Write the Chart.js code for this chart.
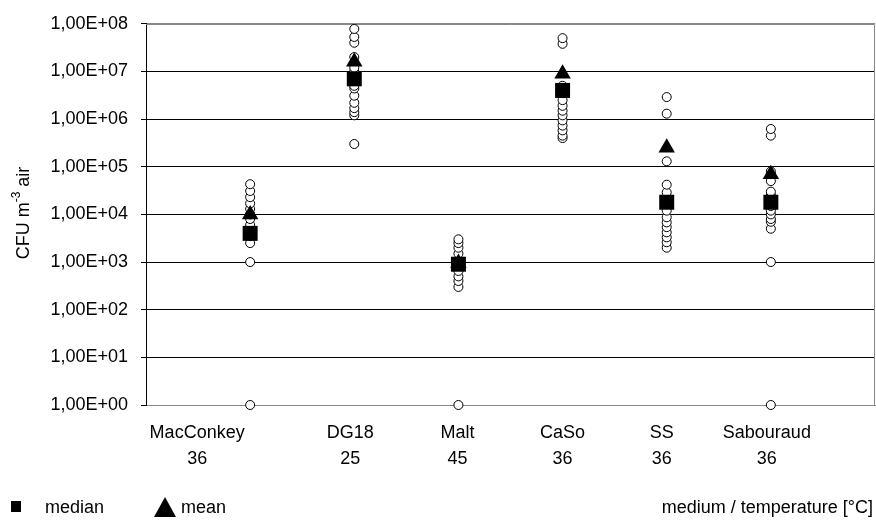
<!DOCTYPE html>
<html><head><meta charset="utf-8">
<script src="https://cdn.jsdelivr.net/npm/chart.js@4/dist/chart.umd.min.js"></script>
<style>html,body{margin:0;padding:0;background:#fff}#wrap{width:876px;height:523px}</style>
</head><body><div id="wrap"><canvas id="c" width="876" height="523"></canvas></div>
<script>
// ---- data ----
const categories = ['MacConkey', 'DG18', 'Malt', 'CaSo', 'SS', 'Sabouraud'];
const temperatures = ['36', '25', '45', '36', '36', '36'];
const macconkey = [1, 1000, 2500, 3500, 4000, 5000, 6000, 8000, 10000, 13000, 17000, 23000, 31000, 43000];
const dg18 = [300000, 1200000, 1400000, 1700000, 2200000, 3100000, 4400000, 5000000, 7000000, 10000000, 12000000, 20000000, 40000000, 53000000, 78000000];
const malt = [1, 300, 400, 500, 650, 900, 1500, 2000, 2500, 3000];
const caso = [400000, 450000, 580000, 730000, 940000, 1200000, 1500000, 1900000, 2500000, 3500000, 5000000, 38000000, 50000000];
const ss = [2000, 2600, 3300, 4200, 5400, 6800, 8700, 12000, 18000, 29000, 42000, 130000, 1300000, 2900000];
const sabouraud = [1, 1000, 5000, 7000, 8000, 10000, 12000, 15000, 20000, 25000, 30000, 50000, 70000, 80000, 450000, 620000];
const medians = [4000, 7000000, 900, 4000000, 18000, 18000];
const means = [10000, 16000000, 950, 9000000, 250000, 70000];
const yTicks = [1, 10, 100, 1000, 10000, 100000, 1000000, 10000000, 100000000];
const yTickLabels = ['1,00E+00', '1,00E+01', '1,00E+02', '1,00E+03', '1,00E+04', '1,00E+05', '1,00E+06', '1,00E+07', '1,00E+08'];
const samples = [macconkey, dg18, malt, caso, ss, sabouraud];

// ---- layout constants ----
const FONT = '"Liberation Sans", Arial, sans-serif';
const labelShift = [-53, -4, -1, 0, -5, -4];

const samplePoints = [];
samples.forEach((arr, i) => arr.forEach(v => samplePoints.push({x: i + 1, y: v})));
const medianPoints = medians.map((v, i) => ({x: i + 1, y: v}));
const meanPoints = means.map((v, i) => ({x: i + 1, y: v}));

const decor = {
  id: 'decor',
  beforeDatasetsDraw(chart) {
    const {ctx, chartArea: a} = chart;
    ctx.save();
    ctx.strokeStyle = '#888';
    ctx.lineWidth = 1;
    ctx.beginPath();
    ctx.moveTo(a.left, Math.round(a.top) + 0.5);
    ctx.lineTo(Math.round(a.right) - 0.5, Math.round(a.top) + 0.5);
    ctx.lineTo(Math.round(a.right) - 0.5, Math.round(a.bottom) + 0.5);
    ctx.stroke();
    ctx.restore();
  },
  afterDraw(chart) {
    const {ctx} = chart;
    const xs = chart.scales.x;
    ctx.save();
    ctx.fillStyle = '#000';
    ctx.font = '18px ' + FONT;
    ctx.textAlign = 'center';
    ctx.textBaseline = 'middle';
    categories.forEach((c, i) => {
      const x = xs.getPixelForValue(i + 1) + labelShift[i];
      ctx.fillText(c, x, 433);
      ctx.fillText(temperatures[i], x, 459);
    });
    // y axis title with superscript
    ctx.save();
    ctx.translate(24, 213);
    ctx.rotate(-Math.PI / 2);
    ctx.textAlign = 'left';
    ctx.font = '18px ' + FONT;
    const p1 = 'CFU m', p3 = ' air';
    const w1 = ctx.measureText(p1).width, w3 = ctx.measureText(p3).width;
    ctx.font = '12px ' + FONT;
    const p2 = '-3';
    const w2 = ctx.measureText(p2).width;
    let x0 = -(w1 + w2 + w3) / 2;
    ctx.font = '18px ' + FONT;
    ctx.fillText(p1, x0, 0);
    ctx.font = '12px ' + FONT;
    ctx.fillText(p2, x0 + w1, -7);
    ctx.font = '18px ' + FONT;
    ctx.fillText(p3, x0 + w1 + w2, 0);
    ctx.restore();
    // legend
    ctx.fillRect(11, 501, 10, 11);
    ctx.beginPath();
    ctx.moveTo(154, 517);
    ctx.lineTo(176, 517);
    ctx.lineTo(165, 497);
    ctx.closePath();
    ctx.fill();
    ctx.textAlign = 'left';
    ctx.font = '18px ' + FONT;
    ctx.fillText('median', 45, 508);
    ctx.fillText('mean', 181, 508);
    ctx.textAlign = 'right';
    ctx.fillText('medium / temperature [°C]', 873, 508);
    ctx.restore();
  }
};

new Chart(document.getElementById('c'), {
  type: 'scatter',
  data: {
    datasets: [
      {label: 'samples', data: samplePoints, order: 3, pointStyle: 'circle', pointRadius: 4.5, pointHoverRadius: 4.5,
       backgroundColor: '#fff', borderColor: '#000', borderWidth: 1, clip: false},
      {label: 'mean', data: meanPoints, order: 2, pointStyle: 'triangle', pointRadius: 9.5, pointHoverRadius: 9.5,
       backgroundColor: '#000', borderColor: '#000', borderWidth: 0, clip: false},
      {label: 'median', data: medianPoints, order: 1, pointStyle: 'rect', pointRadius: 10.6, pointHoverRadius: 10.6,
       backgroundColor: '#000', borderColor: '#000', borderWidth: 0, clip: false}
    ]
  },
  options: {
    responsive: false,
    animation: false,
    devicePixelRatio: 1,
    layout: {autoPadding: false, padding: {top: 23, right: 1, left: 0, bottom: 0}},
    plugins: {legend: {display: false}, tooltip: {enabled: false}},
    scales: {
      x: {
        type: 'linear', min: 0, max: 7,
        afterFit: s => { s.height = 118; },
        ticks: {display: false},
        grid: {display: false, drawTicks: false},
        border: {display: true, color: '#888', width: 1}
      },
      y: {
        type: 'logarithmic', min: 1, max: 100000000,
        afterBuildTicks: s => { s.ticks = yTicks.map(v => ({value: v})); },
        afterFit: s => { s.width = 146; },
        ticks: {
          callback: (v, i) => yTickLabels[i],
          font: {family: FONT, size: 18}, color: '#000', padding: 13, autoSkip: false
        },
        grid: {
          color: c => (c.tick && (c.tick.value === 1 || c.tick.value === 100000000)) ? '#888' : '#000',
          tickColor: '#000', tickLength: 5, lineWidth: 1
        },
        border: {display: true, color: '#000', width: 1}
      }
    }
  },
  plugins: [decor]
});
</script>
</body></html>
